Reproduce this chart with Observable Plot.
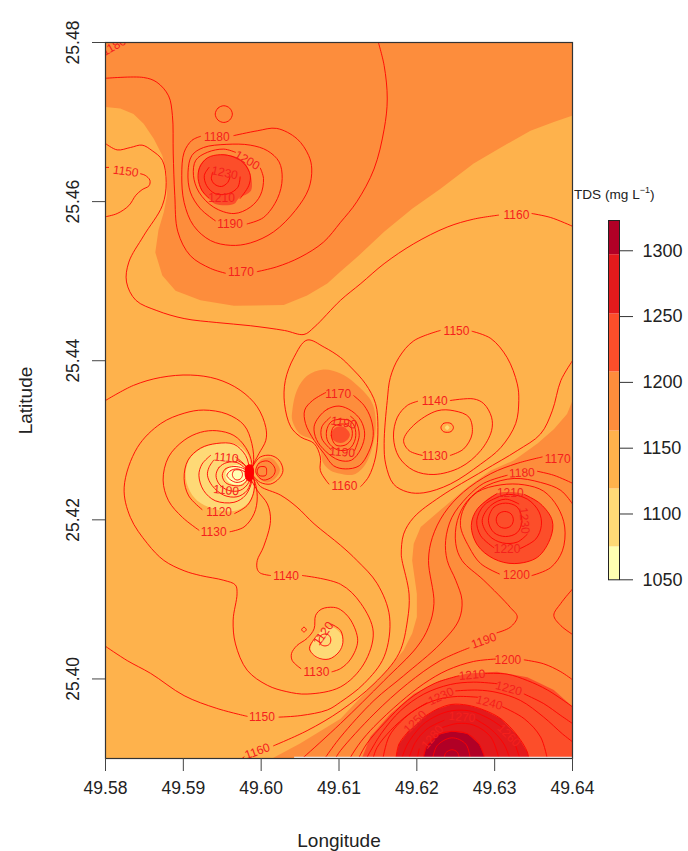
<!DOCTYPE html>
<html><head><meta charset="utf-8">
<style>
html,body{margin:0;padding:0;background:#fff;overflow:hidden}
#wrap{position:relative;width:688px;height:851px}
#main,#legend,#ltitle{position:absolute}
#main{left:0;top:0}
#legend{left:590px;top:210px}
#ltitle{left:574px;top:187px;font:13.6px "Liberation Sans",Arial,sans-serif;color:#222;white-space:nowrap}
#ltitle sup{font-size:9px;line-height:0}
svg{overflow:visible}
</style>
<script src="https://cdn.jsdelivr.net/npm/d3@7"></script>
<script src="https://cdn.jsdelivr.net/npm/@observablehq/plot@0.6"></script>
</head><body><div id="wrap"><div id="main"></div><div id="ltitle">TDS (mg L<sup>−1</sup>)</div><div id="legend"></div></div>
<script>
// Positions are read from the map: [east, south, east, south, ...] in thousandths of a degree
// east of 49.58 and south of 25.48.
const west = 49.58, north = 25.48;
const lonTicks = [49.58,49.59,49.60,49.61,49.62,49.63,49.64];
const latTicks = [25.40,25.42,25.44,25.46,25.48];
const legendTicks = [1050,1100,1150,1200,1250,1300];
const bandBreaks = [1050,1075,1119,1163,1208,1252,1297,1323];
const bandColors = ["#ffffb2","#fed976","#feb24c","#fd8d3c","#fc4e2a","#e31a1c","#b10026"];

// filled bands
const fillTopOrange = [0,0,60,0,60,9.2,57.6,10,54.6,11.1,50.8,13.2,47.3,15.2,43,18.4,39.4,20.9,35.8,23.8,32.3,27,30.2,28.8,28.5,30.3,25.9,31.8,22.9,33,16.5,33.1,12.2,32.4,9,31.2,7.3,29.3,6.4,26.4,6.8,23.6,7.5,21.3,7.9,19.2,7.9,16.7,7.3,14.2,6.2,12.1,4.9,10.2,3.6,9,1.9,8.3,0,8.1];
const fillLowerOrange = [60,45,59.3,46.7,57.6,48.6,55.5,50.4,52.5,52.5,49.5,53.8,46.5,55.9,43,58.8,40.5,60.9,39.6,63,39.4,65.1,40,69.3,40,72.2,39.4,74.3,38.3,76.4,35.8,79.3,33.2,81.9,30.2,85,25,88.1,21.4,90,60,90];
const fillLowerRed = [60,83.5,57.6,81.4,54.2,79.8,50.3,79.1,46.5,79.3,43,80.2,39.6,81.9,36.6,84.4,34,87.3,33,89.8,33,90,60,90];
const fillLowerCrimson = [37.3,90,37.7,88.2,39,86.5,40.9,84.8,42.6,83.8,44.5,83.2,46.5,83.3,48.6,83.9,50.8,85,52.9,87.1,54.2,89.2,54.4,90];
const fillLowerDark = [40.8,90,41.3,88.4,42.8,87,44.5,86.6,46.5,86.9,48,88.2,48.8,90];
const fillTopRed = [11.9,16.7,12.1,15.5,13.1,14.5,14.8,14.1,16.5,14.3,17.8,15,18.6,16.5,18.7,18.6,17.1,19.6,16.5,20.3,14.1,20.3,13.3,19.6,12.2,18.4];
const fillMidOrange = [24,46.3,24.6,43.7,25.9,41.9,28,41.1,30.2,41.6,31.9,42.7,34.1,45,34.7,47.1,34.5,50,33.4,53,31.9,54.3,30.2,54.2,28.9,53.8,28,52.9,27.5,51,26.8,50,25,49.2,24,47.5];
const fillMidRed = [29,49.3,29.3,48.6,30.2,48.25,31,48.6,31.4,49.3,31,50,30.2,50.35,29.3,50];
const fillRightRed = [53.8,56.8,55.9,58,57.4,60.1,57.2,62.2,55.5,64.7,52.5,65.5,49.9,64.9,47.8,63.2,47,60.7,47.8,58.6,50.3,56.7,52.1,56.5];
const fillWestYellow = [10.3,54.4,10.7,52.5,12.2,51.1,14.3,50.4,16.5,50.4,18.2,51.7,18.8,54.2,19,56.3,18.2,58,16.5,58.9,13.9,58.6,11.8,57.6,10.7,56.1];
const fillWestPale = [15.4,54.4,15.8,53.5,16.9,53.1,17.9,53.5,18.3,54.3,17.9,55.2,16.9,55.6,15.8,55.2];
const fillLobeOrange = [19.3,53.8,19.9,52.5,21.2,52.2,22.1,53,22.4,53.8,21.8,54.8,20.8,55.3,19.7,54.8];
const fillSouthYellow = [26.35,76.2,26.8,75,27.85,73.9,29.1,73.5,30.2,74.3,30.5,75.6,30,76.6,28.7,77.5,27.4,77.5,26.6,76.8];
const fillEastSpot = [43.6,48.4,43.9,48.1,44.2,48.4,43.9,48.7];
const fillCrowded = [18,53.3,18.5,53,19,53.4,19,54.7,18.6,55.2,18,54.8];

// open contour pieces
const c1170north = [0,4.5,4.9,4.4,6.6,5,8.1,6.7,8.6,9.2,8.7,13.9,8.9,19.2,9.3,23.8,10.9,26.8,13.5,28.4,15.4,29];
const c1170northB = [19.5,28.8,22,28.2,25,27,28,25.1,30.2,22.6,32.3,20,34.5,15.9,35.8,10.9,36.2,7.1,35.8,2.9,35,-0.2];
const c1160north = [0,12.7,1.5,13.5,3.2,13.2,4.7,12.9,6,13.6,7.3,14.8,7.8,17.6,7.3,20.5,4.9,24.3,3,27.6,2.7,30.1,3.9,32.4,6.6,33.7,10.1,34.7,14.3,35.2,18.6,35.6,23,36.2,25.5,36.7,26.8,35.8,30.2,32.4,32.8,30.3,35.8,27.8,39.6,25.3,43.9,23.2,47.3,22.2,50.5,21.7];
const c1160northB = [54.8,21.5,57.2,22,60,23.1];
const c1150west = [0,21.9,1.5,21.5,3,20.5,3.9,19.2,4.7,18.5,5.6,18,5.7,17.3,5.1,16.7,4.5,16.5];
const c1150westStub = [0,15.7,0.4,15.7];
const c1150a = [0,45,3.6,43.1,7.1,42.1,10.9,41.8,14.3,42.3,17.3,43.7,19.5,45.8,20.6,48.4,20.6,50,19.7,51.7,18.8,53.4,18.5,54.2,19.3,55,19.9,55.8,22.5,56.9,24.6,58.4,26.8,60.5,30.2,63.2,32.3,65.1,34.9,68,36.5,72.2,35.8,77.2,33.2,80.6,30.2,82.9,28.5,83.9,25.1,84.6,22.3,84.8];
const c1150b = [18.2,84.7,14.3,83.7,10.1,82.1,5.8,79.3,2.8,77.7,0,75.9];
const c1140a = [25.3,67,30.2,68.1,32.8,70.5,34.4,74.1,33.2,78.1,30.2,81,25.9,81.9,23.3,81.6,20.8,80.8,18.2,78.9,16.7,75.6,16.4,72.6,16.9,69.3,16.7,68.2,15.2,67.6,12.2,67,10.1,66.4,7.5,65.1,5.4,63,3.2,59.7,2.4,55.9,4.1,50.9,7.1,47.9,10.1,46.6,12.6,46.2,15.6,46.7,17.8,48.1,18.8,50.4,19,53,18.5,54.2,19.5,56.3,20.8,58,21.2,60.1,20.3,63.4,19.5,65.1,19.5,66.2,19.9,66.7,21.2,67];
const c1130a = [12,61.3,9.9,59.7,8.1,57.6,7.4,55,8.1,52.1,10.1,50,12.2,49,14.3,48.8,16.5,49.4,18,50.9,18.8,52.9,18.5,54.2,19.1,55,19.5,57.1,19.1,59.2,17.8,60.9,16,61.5];
const c1120a = [12.4,58.7,10.7,57,10.1,54.8,10.6,52.5,12.2,51,14.3,50.4,16.5,50.5,18,51.9,18.6,53.8,19.1,55,19,56.7,18.2,58.2,16.6,59.2];
const c1110a = [13.5,51.9,12.4,53,12,54.4,12.6,56.3,14.1,57.6,16.5,57.8,18,56.9,18.8,55,18.5,54.2,18.4,54,17.8,53,16.7,52.1];
const c1100a = [13.9,52.5,13.3,53.4,13.1,54.4,13.7,55.7,15.2,56.9,16.9,57.1,18.2,56.3,18.7,54.8,18.5,54,18,53.2,16.9,52.5];
const cLobeOuter = [18.6,54,19.1,53,19.9,52.1,21.2,51.9,22.3,52.5,22.8,53.8,22.3,54.8,21.2,55.5,19.9,55.3,19.1,54.6,18.6,54];
const c1160s = [60,40,58.5,42.5,57.4,46.3,55.9,49.2,52.9,51.3,48.6,53.8,43,57.1,39.6,59.7,38.3,61.8,38,64.3,38.1,65.1,39,69.3,38.8,72.6,37.7,76.8,34.5,80.6,30.2,84,25.9,86.5,21.6,88.4];
const c1160sB = [17.8,89.8,17.3,90.2];
const c1170s = [56.1,52.1,52.9,52.9,49.5,54.2,46,56.5,43.5,59.2,42,62.2,41.5,65.1,42.2,70.5,41.5,73.5,40,76,35.8,80.2,30.2,85.6,25.5,89.8,25,90.2];
const c1180s = [55.5,53.9,57.6,54.4,60,55.4];
const c1180sB = [51.6,54.4,48.6,55.4,46.5,57.1,44.5,59.7,43.7,62.6,43.9,65.1,45,67.6,45.8,70.1,45.4,72.6,43,75.6,38.3,79.6,34.5,82.7,30.2,87.3,28.3,89.8,28,90.2];
const c1190s = [60,58,58.5,56.3,55.9,55.3,52.5,54.8,49,55.7,46.5,57.6,45.2,60.1,45,63,45.8,65.1,48.6,67.6,52,71,52.9,72.2,52,73.5,50.3,74.2];
const c1190sB = [46.7,76.1,43,77.7,38.8,80.6,34.5,84.4,30.2,89,29.4,90.2];
const c1190east = [60,68.7,58.5,70.5,57.6,72,58.5,73.3,60,74.4];
const c1200e = [53.8,77.6,56.3,78.1,58.5,79.1,60,80.1];
const c1200w = [50.1,77.5,47.3,77.8,43.9,78.9,40.9,80.6,37.9,82.9,34.5,86,32.8,87.9,31.5,89.8,31.3,90.2];
const c1210e = [48.8,79.3,51.6,79.4,54.2,80.2,56.8,81.4,60,83.5];
const c1210w = [45.4,79.6,42.2,80.6,38.8,82.7,35.8,85.6,33.6,88.1,32.6,89.8,32.4,90.2];
const c1220e = [53.8,81.9,56.3,83.1,58.5,84.6,60,85.6];
const c1220w = [50.3,80.6,47.3,80.4,44.3,80.7,40.9,81.9,37.9,84,35.4,86.9,33.4,90.2];
const c1230e = [45,81.5,47.8,81.4,50.3,81.7,53.3,82.7,56.3,84.8,58.7,86.9,60,87.9];
const c1230w = [41.3,83,39,84.4,36.6,86.5,34.9,88.6,34.3,90.2];
const c1240e = [51,83.5,53.8,85,55.9,87.3,56.8,90.2];
const c1240w = [47.8,82.3,45.2,82.2,42.6,82.6,40.1,83.7,37.9,85.4,36.4,87.3,35.6,90.2];
const c1250w = [37.3,90.2,37.7,88.2,39,86.5];
const c1250e = [40.9,84.8,42.6,83.8,44.5,83.2,46.5,83.3,48.6,83.9,50.8,85,52.9,87.1,54.2,89.2,54.4,90.2];
const c1260a = [38,90.2,38.8,88.2,40.7,85.8,42.6,84.6,44.5,84,46.9,84.04,49.3,85,51,86.1];
const c1260b = [52.7,88.4,53.3,90.2];
const c1270a = [38.9,90.2,39.8,88,41.3,86.3,43.5,85.2];
const c1270b = [47.6,85.1,49.5,86.3,51.2,88.2,52,90.2];
const c1280a = [40,90.2,40.3,88.8];
const c1280b = [43.3,86.1,45.2,85.6,47.3,85.8,49.5,87.3,50.6,90.2];
const c1290a = [40.8,90.2,41.3,88.4,42.8,87,44.5,86.6,46.5,86.9,48,88.2,48.8,90.2];
const c1300a = [42,90.2,42.6,88.4,44.5,87.4,46.3,88.2,46.9,90.2];
const c1310a = [43.5,90.2,43.7,89.3,44.5,88.9,45.2,89.2,45.5,90.2];
const c1180n = [16.5,11.7,19.5,11.1,22,10.8,24.6,12.1,26.1,14.2,26.5,15.9,26.1,18.4,24.4,21.1,21.6,23.8,18.6,25.2,16.1,25.5,13.5,24.9,11.3,23,10.1,20.1,9.8,16.7,10.1,13.8,11.1,12.3,12.2,11.8];
const c1190n = [18.2,22.8,20.3,22,22.1,19.6,22.7,17.1,22.3,15,20.8,13.6,18.6,12.9,15.6,12.8,12.6,13.2,11.1,14.2,10.6,16.3,10.9,18.8,12.2,20.9,14.1,22.4];
const c1200n = [19.9,15.8,20.3,17.1,19.9,19.2,18.6,20.7,16.5,21.5,13.9,20.7,12,18.8,11.3,16.7,11.6,14.8,13.1,13.8,15.2,13.4,16.7,13.8];
const c1210n = [17.3,19.6,18.4,18,18.6,16.7,17.8,15.2,16.5,14.4,14.8,14.1,13.1,14.5,12.1,15.7,11.9,17.1,12.4,18.6,13.3,19.6];
const c1220n = [13.3,15.7,12.7,16.7,13,18,14.1,19,15.8,19,17,18.2,17.3,16.9];
const c1230n = [13.8,16.3,13.6,17.1,14,17.8,14.9,18.1,15.7,17.6,16,16.9];
const cMid1160 = [28.7,55.5,28.3,55,27.6,53.8,27.6,52.1,26.8,50.4,25.1,49.6,23.8,48.3,23,45.4,23.1,42.5,24.2,39.6,25.9,37.4,28.1,38.3,30.2,39.6,31.5,40.8,33.4,42.9,34.7,45.4,35,48.4,34.7,52.1,33.8,54.6,32.8,55.8];
const cMid1170 = [31.9,44.4,33.2,45.6,34.1,47.3,34.4,49.4,33.8,51.5,32.6,53.2,30.8,53.6,29.3,53.2,28.1,51.7,26.8,50,25.7,47.9,25.6,46.2,26.6,45,28.3,44];
const cMid1190a = [28.9,47.1,27.8,48.3,27.8,49.8,29,51.2];
const cMid1190b = [32,51.3,32.6,49.4,32.2,47.7,31.5,47];
const cE1150 = [47.1,36.3,49.5,37.2,51.6,39.6,52.9,42.9,53.1,45,52.7,47.9,50.8,50.9,48.2,53,44.3,55.5,40.9,56.6,38.8,56.5,37,55.5,36,53,35.8,50.4,36.2,45,36.6,42.1,37.7,39.6,39.6,37.5,43,36.2];
const cE1140 = [44.3,45,47.3,44.8,48.6,45.4,49.6,47.1,49.6,48.8,48.2,51.3,45.6,53.4,42.2,54.3,39.6,53.8,37.7,52.1,37,49.6,37.5,47.1,38.8,45.6,40.1,45.1];
const cE1130 = [44.3,51.9,46,51.1,47.1,49.2,46.7,47.1,44.8,46.3,42.6,46.3,39.6,48.1,38.3,50,39,51.3,40.7,51.9];
const cR72 = [54.2,61.8,52.9,62.8,51,62.9,49.3,62,48.4,60.1,49.5,58.2,51.4,57.4,53.1,58];
const cR1220 = [53.3,63.6,55.3,62.4,56,60.7,55.7,59,54.2,57.4,51.8,56.8,50.3,57.2,48.6,58.2,47.7,60.1,48.2,62,49.9,63.5];
const cR1210 = [53.8,56.8,55.9,58,57.4,60.1,57.2,62.2,55.5,64.7,52.5,65.5,49.9,64.9,47.8,63.2,47,60.7,47.8,58.6,50.3,56.7];
const cR1200 = [54.8,67,57.2,66,58.7,63.9,59,60.9,58.1,58.4,56.3,56.4,53.8,55.6,50.8,55.6,47.8,56.5,46.1,58.4,45.6,60.7,46.7,63.4,48.2,65.5,50.6,66.8];
const cS1130 = [29.1,79.1,30.2,78.7,31.5,77.5,32.4,75.2,31.5,72.6,30.2,71.3,29.3,71,27.8,71.2,27,72,26.8,73.7,25.9,74.9,24.6,75.8,23.9,76.8,24,77.7,25.1,78.7];
const cS1120 = [29.1,73.15,30.2,73.9,30.5,75.4,30,76.6,28.7,77.5,27.2,77.3,26.2,76.2,26.8,75,27.3,74.4];

// closed contour loops
const loopN1180 = [14.1,9,14.45,8.25,15.2,7.95,15.95,8.25,16.3,9,15.95,9.75,15.2,10.05,14.45,9.75];
const loopW1 = [14.2,54.4,14.6,53.4,15.6,52.8,16.9,52.8,18,53.6,18.5,54.2,18.4,55.3,17.3,56.3,15.8,56.3,14.6,55.5];
const loopW2 = [15,54.4,15.4,53.6,16.5,53.3,17.6,53.5,18.4,54.1,18.4,54.6,17.6,55.6,16.5,55.7,15.4,55.3];
const loopW3 = [15.6,54.4,16.1,53.8,16.9,53.6,17.8,53.9,18.3,54.3,17.8,55,16.9,55.3,16.1,55];
const loopW4 = [16.3,54.3,16.5,53.8,16.9,53.7,17.4,53.8,17.6,54.3,17.4,54.8,16.9,55,16.5,54.8];
const loopLobe2 = [19.3,53.8,19.7,52.9,20.8,52.6,21.6,53.2,21.8,53.9,21.4,54.6,20.3,55,19.5,54.4];
const loopLobe3 = [19.5,53.9,19.7,53.4,20.1,53.3,20.6,53.4,20.7,53.9,20.6,54.4,20.1,54.5,19.7,54.4];
const loopMid2 = [30,45.7,28.5,46.1,27.4,47.1,26.8,48.3,27.1,49.9,28.3,51.4,30,52.5,31.6,52.5,32.8,51.1,33.3,49.2,32.8,47.5,31.6,46.3];
const loopMid4 = [29.1,47.6,28.4,48.8,28.6,50.2,29.8,51.2,31.3,51.1,32.1,49.8,32,48.3,31.3,47.5];
const loopMid5 = [29.3,48.3,29,49.4,29.6,50.6,30.8,50.6,31.6,49.8,31.6,48.5,30.8,48,30,48];
const loopE = [43.1,48.4,43.4,47.9,43.9,47.8,44.4,47.9,44.7,48.4,44.4,48.9,43.9,49,43.4,48.9];
const loopR1 = [50.2,60,50.5,59.25,51.3,58.95,52.1,59.25,52.4,60,52.1,60.75,51.3,61.05,50.5,60.75];
const loopR2 = [49.2,60.1,49.9,58.4,51.4,57.9,52.9,58.4,53.5,60.1,52.9,61.6,51.4,62.1,49.9,61.6];
const loopS1 = [27.45,75.1,27.65,74.55,28.2,74.35,28.75,74.55,28.95,75.1,28.75,75.65,28.2,75.85,27.65,75.65];
const loopS2 = [25.2,73.8,25.5,73.5,25.8,73.8,25.5,74.1];

// contour labels: text, east, south, rotation
const labelRows = [
["1180",1.1,0.5,-30],["1180",14.3,11.9,0],["1200",18.2,14.8,30],["1230",15.3,16.4,12],["1210",14.9,19.6,0],["1190",16,22.8,0],["1170",17.4,28.9,0],["1150",2.6,16.2,8],
["1160",52.8,21.7,0],["1150",45.1,36.3,0],["1140",42.3,45.1,0],["1130",42.3,52,0],["1170",58.1,52.4,0],["1180",53.5,54.1,-3],["1210",52,56.6,0],["1230",53.8,60.1,85],["1220",51.6,63.7,0],
["1200",52.8,67,0],["1190",48.6,75.2,-20],["1200",51.7,77.7,0],["1210",47.1,79.5,-5],["1220",51.8,81.2,15],["1230",43.1,82.2,-25],["1240",49.3,83,15],["1270",45.8,84.8,5],["1250",39.8,85.4,-45],["1260",51.8,87.1,45],["1280",42,87.3,-50],
["1140",23.2,67.1,0],["1130",27.1,79.1,0],["1120",28,74.3,-55],["1150",20.1,84.8,0],["1160",19.5,89.1,-20],["1120",14.6,59,0],["1130",13.9,61.5,0],["1110",15.5,52.2,5],["1100",15.5,56.3,5],
["1170",29.9,44.2,0],["1190",30.6,47.8,10],["1190",30.4,51.5,5],["1160",30.7,55.8,0]];

const openLines = [c1170north,c1170northB,c1160north,c1160northB,c1150west,c1150westStub,c1150a,c1150b,c1140a,c1130a,c1120a,c1110a,c1100a,cLobeOuter,c1160s,c1160sB,c1170s,c1180s,c1180sB,c1190s,c1190sB,c1190east,c1200e,c1200w,c1210e,c1210w,c1220e,c1220w,c1230e,c1230w,c1240e,c1240w,c1250w,c1250e,c1260a,c1260b,c1270a,c1270b,c1280a,c1280b,c1290a,c1300a,c1310a,c1180n,c1190n,c1200n,c1210n,c1220n,c1230n,cMid1160,cMid1170,cMid1190a,cMid1190b,cE1150,cE1140,cE1130,cR72,cR1220,cR1210,cR1200,cS1130,cS1120];
const closedLoops = [loopN1180,loopW1,loopW2,loopW3,loopW4,loopLobe2,loopLobe3,loopMid2,loopMid4,loopMid5,loopE,loopR1,loopR2,loopS1,loopS2];

const table = list => list.flatMap((arr,id)=>d3.range(0,arr.length,2).map(i=>({lon:west+arr[i]/1000,lat:north-arr[i+1]/1000,id})));
const C = {pale:bandColors[0],yellow:bandColors[1],base:bandColors[2],orange:bandColors[3],red:bandColors[4],crimson:bandColors[5],dark:bandColors[6]};
const patch = (arr,fill,curve="catmull-rom-closed") => Plot.line(table([arr]),{x:"lon",y:"lat",z:"id",fill,stroke:"none",curve,clip:true});
const font = '"Liberation Sans",Arial,sans-serif';

const labels = labelRows.map(([text,e,s,rotate])=>({text,lon:west+e/1000,lat:north-s/1000,rotate}));

document.getElementById("main").append(Plot.plot({
  width:688,height:851,marginLeft:105,marginRight:116,marginTop:42,marginBottom:93,
  style:{fontFamily:font,background:"transparent"},
  x:{domain:[49.58,49.64],label:null},
  y:{domain:[25.39,25.48],label:null},
  marks:[
    Plot.frame({fill:C.base,stroke:"none"}),
    patch(fillTopOrange,C.orange,"linear"),
    patch(fillLowerOrange,C.orange,"linear"),
    patch(fillLowerRed,C.red,"linear"),
    patch(fillLowerCrimson,C.crimson,"linear"),
    patch(fillLowerDark,C.dark,"linear"),
    patch(fillTopRed,C.red),
    patch(fillMidOrange,C.orange),
    patch(fillMidRed,C.red),
    patch(fillRightRed,C.red),
    patch(fillWestYellow,C.yellow),
    patch(fillWestPale,C.pale),
    patch(fillLobeOrange,C.orange),
    patch(fillSouthYellow,C.yellow),
    patch(fillEastSpot,C.yellow),
    patch(fillCrowded,"#ff0000"),
    Plot.line(table(openLines),{x:"lon",y:"lat",z:"id",stroke:"#ff0000",strokeWidth:0.9,curve:"catmull-rom",clip:true}),
    Plot.line(table(closedLoops),{x:"lon",y:"lat",z:"id",stroke:"#ff0000",strokeWidth:0.9,curve:"catmull-rom-closed",clip:true}),
    Plot.text(labels,{x:"lon",y:"lat",text:"text",rotate:"rotate",fill:"#f5201c",fontSize:12,clip:true}),
    Plot.ruleY([25.3901],{x1:49.6043,x2:49.64,stroke:"#f2f2f2",strokeWidth:2}),
    Plot.frame({stroke:"#333",strokeWidth:1.2}),
    Plot.axisX({ticks:lonTicks,tickFormat:d=>d.toFixed(2),tickSize:13,tickPadding:10,fontSize:17.5,stroke:"#444",color:"#222",label:null}),
    Plot.axisY({ticks:latTicks,tickFormat:d=>d.toFixed(2),tickSize:13,tickPadding:14,tickRotate:-90,fontSize:17.5,stroke:"#444",color:"#222",textAnchor:"middle",label:null}),
    Plot.text(["Longitude"],{frameAnchor:"bottom",dy:88,fontSize:19,fill:"#222"}),
    Plot.text(["Latitude"],{frameAnchor:"left",textAnchor:"middle",dx:-80,rotate:-90,fontSize:19,fill:"#222"})
  ]
}));

const bands = bandColors.map((fill,i)=>({y1:bandBreaks[i],y2:bandBreaks[i+1],fill}));
document.getElementById("legend").append(Plot.plot({
  width:98,height:400,marginLeft:18,marginRight:69,marginTop:10,marginBottom:30.7,
  style:{fontFamily:font,background:"transparent"},
  x:{axis:null},
  y:{domain:[1050,1323],label:null},
  marks:[
    Plot.rectY(bands,{y1:"y1",y2:"y2",fill:d=>d.fill}),
    Plot.frame({stroke:"#222",strokeWidth:1}),
    Plot.axisY({anchor:"right",ticks:legendTicks,tickFormat:d=>String(d),tickSize:13,tickPadding:10,fontSize:18,stroke:"#333",color:"#222",label:null})
  ]
}));
</script></body></html>
